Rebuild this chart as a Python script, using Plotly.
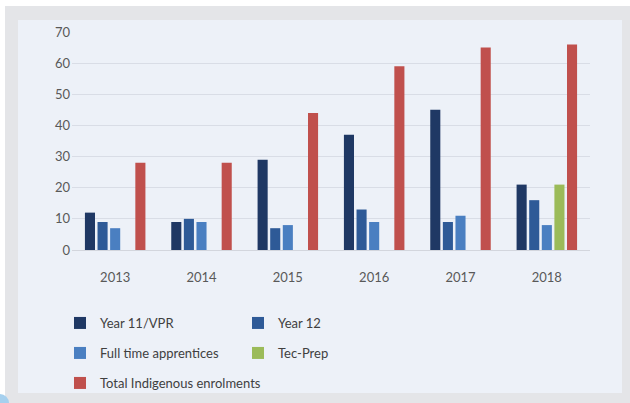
import plotly.graph_objects as go

years = ["2013", "2014", "2015", "2016", "2017", "2018"]
year11_vpr = [12, 9, 29, 37, 45, 21]
year12 = [9, 10, 7, 13, 9, 16]
full_time_apprentices = [7, 9, 8, 9, 11, 8]
tec_prep = [None, None, None, None, None, 21]
total_indigenous = [28, 28, 44, 59, 65, 66]

series = [
    ("Year 11/VPR", year11_vpr, "#1f3864", "legend"),
    ("Year 12", year12, "#2e5a97", "legend"),
    ("Full time apprentices", full_time_apprentices, "#4a7fc1", "legend2"),
    ("Tec-Prep", tec_prep, "#9bbb59", "legend2"),
    ("Total Indigenous enrolments", total_indigenous, "#c0504d", "legend3"),
]

W, H = 630, 403

def px_x(x):
    return x / W

def px_y(y):
    return (H - y) / H

fig = go.Figure()
for name, vals, col, lg in series:
    fig.add_trace(go.Bar(x=years, y=vals, name=name, marker_color=col,
                         marker_line_width=0, legend=lg))

font = "Lato, 'Open Sans', sans-serif"
legend_common = dict(orientation="h", xanchor="left", yanchor="middle",
                     x=px_x(60),
                     bgcolor="rgba(0,0,0,0)", borderwidth=0,
                     font=dict(family=font, size=13, color="#404040"),
                     itemclick=False)

fig.update_layout(
    width=W, height=H,
    margin=dict(l=0, r=0, t=0, b=0, autoexpand=False),
    paper_bgcolor="#ffffff",
    plot_bgcolor="rgba(0,0,0,0)",
    barmode="group",
    bargap=0.27,
    bargroupgap=0.2,
    showlegend=True,
    legend=dict(y=px_y(323), entrywidth=133, entrywidthmode="pixels", **legend_common),
    legend2=dict(y=px_y(353), entrywidth=133, entrywidthmode="pixels", **legend_common),
    legend3=dict(y=px_y(383), **legend_common),
    xaxis=dict(domain=[px_x(72), px_x(590)],
               showgrid=False, showline=False, zeroline=False,
               ticks="", ticklabelstandoff=18,
               tickfont=dict(family=font, size=13, color="#595959")),
    yaxis=dict(domain=[px_y(250), px_y(32)],
               range=[0, 70], dtick=10, showgrid=True, gridcolor="#d9dde6",
               gridwidth=1, zeroline=True, zerolinecolor="#d3d6dd",
               zerolinewidth=1, showline=False, ticks="",
               ticklabelstandoff=1,
               tickfont=dict(family=font, size=13, color="#595959")),
    shapes=[
        dict(type="rect", xref="paper", yref="paper", layer="below",
             x0=px_x(5), x1=px_x(630), y0=px_y(6), y1=px_y(403),
             fillcolor="#e4e5e8", line_width=0),
        dict(type="rect", xref="paper", yref="paper", layer="below",
             x0=px_x(18), x1=px_x(622), y0=px_y(20), y1=px_y(393),
             fillcolor="#edf1f8", line_width=0),
        dict(type="circle", xref="paper", yref="paper", layer="below",
             x0=px_x(-9), x1=px_x(9), y0=px_y(394), y1=px_y(412),
             fillcolor="#a6d0ee", line_width=0),
    ],
)

fig.write_html("out.html", config={"displayModeBar": False},
               post_script="document.body.style.margin='0';")
